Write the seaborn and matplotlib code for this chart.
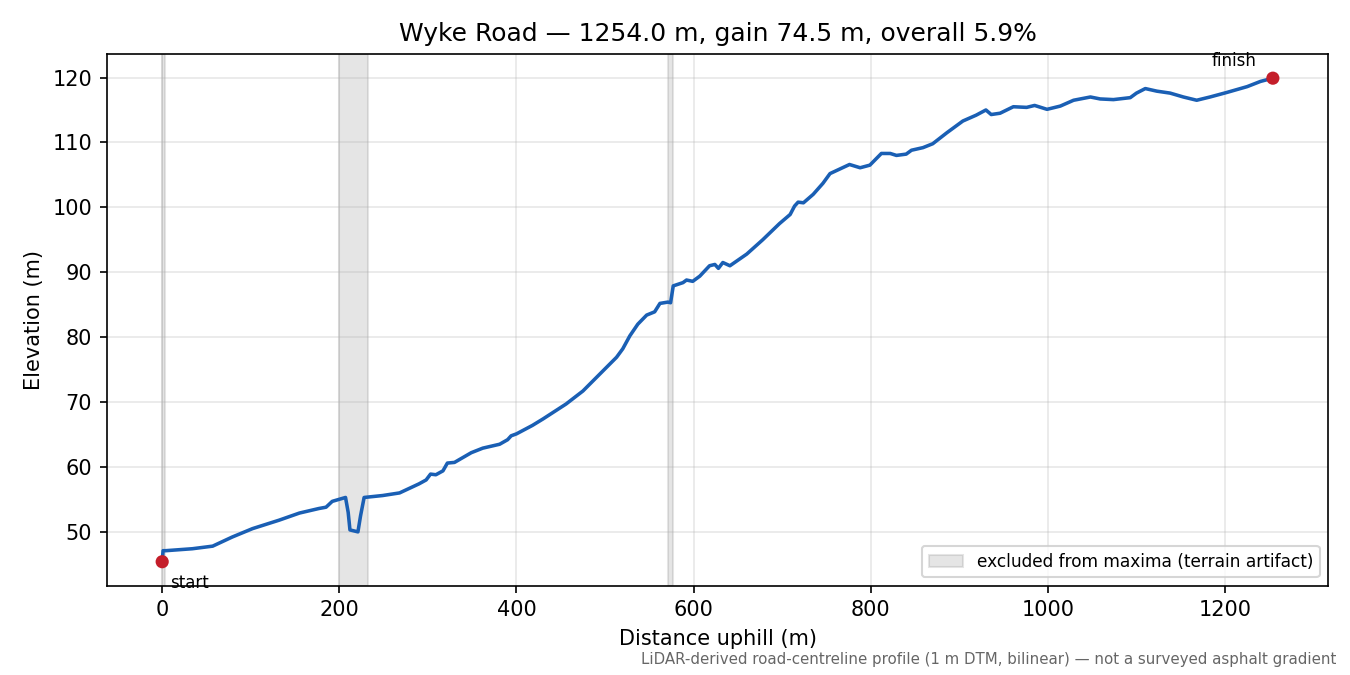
import matplotlib
matplotlib.use("Agg")
import matplotlib.pyplot as plt
import seaborn as sns
import pandas as pd

# profile (distance uphill m, elevation m)
dist = [0, 1, 4, 34, 57, 79, 102, 132, 155, 177, 185, 192, 207, 210, 212, 221,
        224, 228, 249, 268, 290, 298, 303, 309, 317, 322, 330, 349, 362, 381,
        390, 394, 400, 418, 430, 456, 475, 494, 513, 520, 528, 537, 547, 556,
        562, 571, 574, 577, 588, 592, 599, 607, 618, 624, 628, 633, 641, 660,
        678, 697, 709, 714, 718, 724, 735, 746, 754, 765, 776, 788, 799, 812,
        822, 829, 840, 846, 859, 870, 886, 904, 919, 930, 936, 946, 961, 976,
        985, 999, 1014, 1029, 1048, 1059, 1074, 1093, 1100, 1110, 1123, 1138,
        1153, 1168, 1183, 1202, 1225, 1240, 1254]
elev = [45.4, 47.1, 47.1, 47.4, 47.8, 49.2, 50.5, 51.8, 52.9, 53.6, 53.8, 54.7,
        55.3, 53.0, 50.3, 50.0, 52.5, 55.3, 55.6, 56.0, 57.4, 58.0, 58.9, 58.8,
        59.4, 60.6, 60.7, 62.2, 62.9, 63.5, 64.2, 64.8, 65.1, 66.4, 67.4, 69.7,
        71.7, 74.3, 76.9, 78.2, 80.2, 82.0, 83.4, 83.9, 85.2, 85.4, 85.3, 87.9,
        88.4, 88.8, 88.6, 89.4, 91.0, 91.2, 90.6, 91.5, 91.0, 92.8, 95.0, 97.5,
        98.9, 100.2, 100.8, 100.7, 102.0, 103.7, 105.2, 105.9, 106.6, 106.1,
        106.5, 108.3, 108.3, 108.0, 108.2, 108.8, 109.2, 109.8, 111.5, 113.3,
        114.2, 115.0, 114.3, 114.5, 115.5, 115.4, 115.7, 115.1, 115.6, 116.5,
        117.0, 116.7, 116.6, 116.9, 117.6, 118.3, 117.9, 117.6, 117.0, 116.5,
        117.0, 117.7, 118.6, 119.4, 119.9]

# stretches excluded from maxima
excluded = [(0, 3), (200, 232), (571, 577)]

ends_label = ["start", "finish"]
ends_dist = [0, 1254]
ends_elev = [45.4, 119.9]

title = "Wyke Road \u2014 1254.0 m, gain 74.5 m, overall 5.9%"
note = "LiDAR-derived road-centreline profile (1 m DTM, bilinear) \u2014 not a surveyed asphalt gradient"

df = pd.DataFrame({"dist": dist, "elev": elev})
ends = pd.DataFrame({"dist": ends_dist, "elev": ends_elev, "label": ends_label})

fig, ax = plt.subplots(figsize=(9, 4.5), dpi=150)
fig.subplots_adjust(left=0.079, right=0.984, top=0.92, bottom=0.132)

for i, (a, b) in enumerate(excluded):
    ax.axvspan(a, b, color="0.5", alpha=0.2,
               label="excluded from maxima (terrain artifact)" if i == 0 else None)

sns.lineplot(data=df, x="dist", y="elev", color="#1a5fb4", linewidth=1.7, ax=ax)
sns.scatterplot(data=ends, x="dist", y="elev", color="#c41e2a", s=40,
                edgecolor="none", zorder=5, ax=ax)

ax.annotate("start", (ends_dist[0], ends_elev[0]), xytext=(4, -6),
            textcoords="offset points", ha="left", va="top", fontsize=8)
ax.annotate("finish", (ends_dist[1], ends_elev[1]), xytext=(-8, 4),
            textcoords="offset points", ha="right", va="bottom", fontsize=8)

ax.grid(True, alpha=0.3)
ax.set_xlabel("Distance uphill (m)")
ax.set_ylabel("Elevation (m)")
ax.set_title(title, fontsize=12)
ax.legend(loc="lower right", fontsize=8.2)

fig.text(0.99, 0.012, note, ha="right", va="bottom", fontsize=7.2, color="0.4")

plt.savefig("out.png", dpi=150)
